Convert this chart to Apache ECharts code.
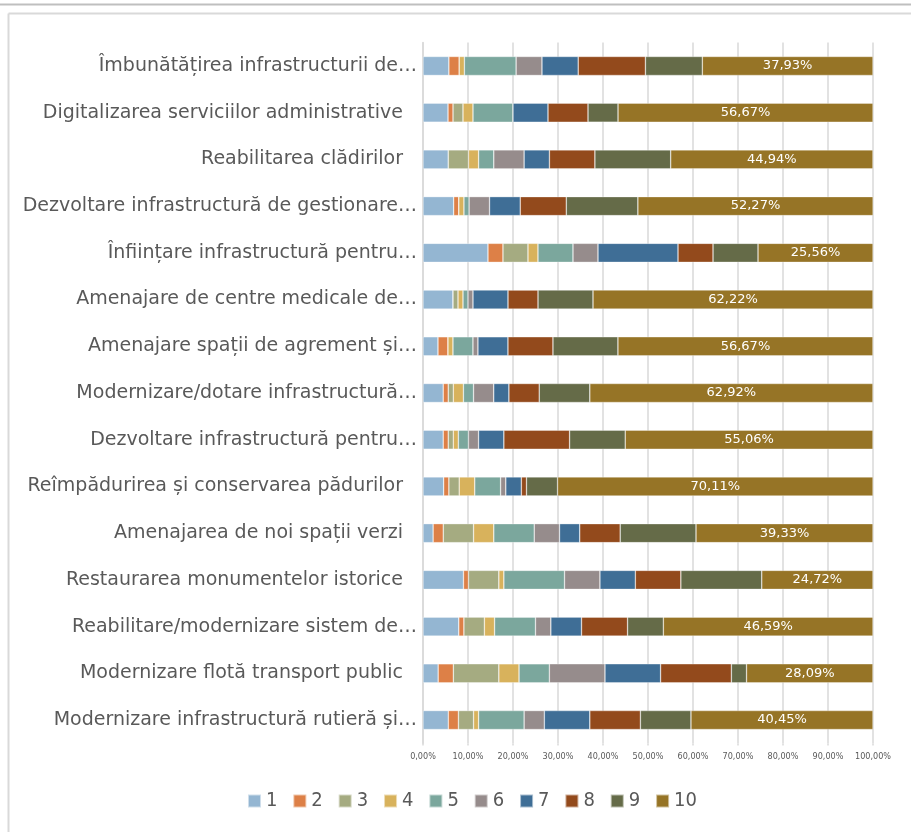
<!DOCTYPE html>
<html>
<head>
<meta charset="utf-8">
<script src="https://cdn.jsdelivr.net/npm/echarts@6/dist/echarts.min.js"></script>
<style>
html,body{margin:0;padding:0;background:#fff;}
#chart{width:911px;height:832px;}
</style>
</head>
<body>
<div id="chart"></div>
<script>
// Categories (top to bottom), as displayed
var categories = [
  "Îmbunătățirea infrastructurii de…",
  "Digitalizarea serviciilor administrative",
  "Reabilitarea clădirilor",
  "Dezvoltare infrastructură de gestionare…",
  "Înființare infrastructură pentru…",
  "Amenajare de centre medicale de…",
  "Amenajare spații de agrement și…",
  "Modernizare/dotare infrastructură…",
  "Dezvoltare infrastructură pentru…",
  "Reîmpădurirea și conservarea pădurilor",
  "Amenajarea de noi spații verzi",
  "Restaurarea monumentelor istorice",
  "Reabilitare/modernizare sistem de…",
  "Modernizare flotă transport public",
  "Modernizare infrastructură rutieră și…"
];
var seriesNames = ["1","2","3","4","5","6","7","8","9","10"];
// Percent values per series (one value per category, top to bottom)
var s1  = [5.75, 5.56, 5.62, 6.82, 14.44, 6.67, 3.33, 4.49, 4.49, 4.60, 2.25, 8.99, 7.95, 3.37, 5.62];
var s2  = [2.30, 1.11, 0,    1.14, 3.33,  0,    2.22, 1.12, 1.12, 1.15, 2.25, 1.12, 1.14, 3.37, 2.25];
var s3  = [0,    2.22, 4.49, 0,    5.56,  1.11, 0,    1.12, 1.12, 2.30, 6.74, 6.74, 4.55, 10.11, 3.37];
var s4  = [1.15, 2.22, 2.25, 1.14, 2.22,  1.11, 1.11, 2.25, 1.12, 3.45, 4.49, 1.12, 2.27, 4.49, 1.12];
var s5  = [11.49, 8.89, 3.37, 1.14, 7.78, 1.11, 4.44, 2.25, 2.25, 5.75, 8.99, 13.48, 9.09, 6.74, 10.11];
var s6  = [5.75, 0,    6.74, 4.55, 5.56,  1.11, 1.11, 4.49, 2.25, 1.15, 5.62, 7.87, 3.41, 12.36, 4.49];
var s7  = [8.05, 7.78, 5.62, 6.82, 17.78, 7.78, 6.67, 3.37, 5.62, 3.45, 4.49, 7.87, 6.82, 12.36, 10.11];
var s8  = [14.94, 8.89, 10.11, 10.23, 7.78, 6.67, 10.00, 6.74, 14.61, 1.15, 8.99, 10.11, 10.23, 15.73, 11.24];
var s9  = [12.64, 6.67, 16.85, 15.91, 10.00, 12.22, 14.44, 11.24, 12.36, 6.90, 16.85, 17.98, 7.95, 3.37, 11.24];
var s10 = [37.93, 56.67, 44.94, 52.27, 25.56, 62.22, 56.67, 62.92, 55.06, 70.11, 39.33, 24.72, 46.59, 28.09, 40.45];
var seriesValues = [s1, s2, s3, s4, s5, s6, s7, s8, s9, s10];
var xTicks = [0, 10, 20, 30, 40, 50, 60, 70, 80, 90, 100];

var colors = ["#94B6D2","#DD8047","#A5AB81","#D8B25C","#7BA79D","#968C8C","#3F6E96","#934A1C","#656B48","#967426"];

function fmtPct(v){ return v.toFixed(2).replace('.', ',') + '%'; }

var series = seriesNames.map(function(name, i){
  var s = {
    name: name,
    type: 'bar',
    stack: 'total',
    barWidth: 19,
    data: seriesValues[i],
    itemStyle: { color: colors[i], borderColor: 'rgba(255,255,255,0.55)', borderWidth: 0.6 },
    emphasis: { disabled: true }
  };
  if (i === 9) {
    s.label = {
      show: true, position: 'inside', color: '#ffffff',
      fontFamily: 'DejaVu Sans', fontSize: 13,
      formatter: function(p){ return fmtPct(p.value); }
    };
  }
  return s;
});

var chart = echarts.init(document.getElementById('chart'), null, {renderer: 'canvas'});
chart.setOption({
  animation: false,
  color: colors,
  grid: { left: 423, right: 38, top: 42.6, bottom: 88.6, containLabel: false },
  xAxis: {
    type: 'value', min: 0, max: 100, interval: 10,
    axisLine: { show: false },
    axisTick: { show: true, length: 2, lineStyle: { color: '#d9d9d9', width: 1.5 } },
    splitLine: { show: true, lineStyle: { color: '#d9d9d9', width: 1.5 } },
    axisLabel: {
      color: '#595959', fontFamily: 'DejaVu Sans Condensed, DejaVu Sans', fontSize: 9, margin: 9,
      formatter: function(v){ return xTicks.indexOf(v) >= 0 ? fmtPct(v) : ''; }
    }
  },
  yAxis: {
    type: 'category', data: categories, inverse: true,
    axisLine: { show: true, lineStyle: { color: '#d9d9d9', width: 1.5 } },
    axisTick: { show: false },
    axisLabel: {
      margin: 6,
      formatter: function(v){
        return v.charAt(v.length-1) === '…' ? '{t|' + v + '}' : '{f|' + v + '}';
      },
      rich: {
        t: { color: '#595959', fontFamily: 'DejaVu Sans', fontSize: 19 },
        f: { color: '#595959', fontFamily: 'DejaVu Sans', fontSize: 19, padding: [0, 14, 0, 0] }
      }
    }
  },
  legend: {
    data: seriesNames,
    left: 247, top: 791, padding: 0,
    itemWidth: 13, itemHeight: 13, itemGap: 14.9,
    icon: 'rect',
    textStyle: { color: '#595959', fontFamily: 'DejaVu Sans Condensed, DejaVu Sans', fontSize: 20 }
  },
  graphic: [
    { type: 'rect', shape: { x: 0, y: 3.5, width: 911, height: 2 }, style: { fill: '#bfbfbf' }, silent: true },
    { type: 'line', shape: { x1: 8.5, y1: 13.5, x2: 911, y2: 13.5 }, style: { stroke: '#d9d9d9', lineWidth: 2 }, silent: true },
    { type: 'line', shape: { x1: 8.5, y1: 13.5, x2: 8.5, y2: 832 }, style: { stroke: '#d9d9d9', lineWidth: 2 }, silent: true }
  ],
  series: series
});
</script>
</body>
</html>
